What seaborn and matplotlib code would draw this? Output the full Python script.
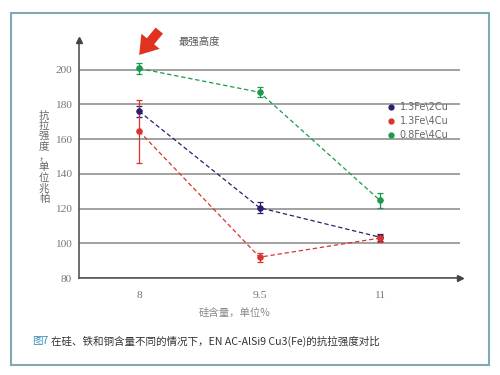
import numpy as np
import pandas as pd
import seaborn as sns
import matplotlib.pyplot as plt
from matplotlib.lines import Line2D
from matplotlib.patches import Rectangle

silicon = ["8", "9.5", "11"]
alloys = ["1.3Fe\\2Cu", "1.3Fe\\4Cu", "0.8Fe\\4Cu"]
strength_2cu = [176, 120.5, 103.5]
strength_13_4cu = [164.5, 92, 103]
strength_08_4cu = [200.7, 187, 124.7]
err_2cu = [3, 3, 2]
err_13_4cu = [18, 2.5, 2]
err_08_4cu = [3, 3, 4.2]
colors = ["#2a206e", "#d9342b", "#1b9a4b"]
yticks = [80, 100, 120, 140, 160, 180, 200]

sns.set_style("white")
plt.rcParams['font.family'] = ['Noto Sans CJK SC', 'DejaVu Sans']
plt.rcParams['lines.dashed_pattern'] = [3.5, 2.2]

values = [strength_2cu, strength_13_4cu, strength_08_4cu]
errors = [err_2cu, err_13_4cu, err_08_4cu]
df = pd.DataFrame({
    "si": silicon * 3,
    "alloy": np.repeat(alloys, 3),
    "val": np.concatenate(values),
})

fig = plt.figure(figsize=(5, 3.75), dpi=100)
ax = fig.add_axes([79/500, 1-278/375, (460-79)/500, (278-40)/375])

pos = np.arange(len(silicon))
for vals, errs, c in zip(values, errors, colors):
    ax.errorbar(pos, vals, yerr=errs, fmt="none", ecolor=c, elinewidth=0.9,
                capsize=2.5, capthick=0.9, zorder=2)

sns.pointplot(data=df, x="si", y="val", hue="alloy", order=silicon, hue_order=alloys,
              palette=colors, linestyles="--", markers="o", errorbar=None,
              linewidth=0.9, markersize=4, ax=ax, legend=False, zorder=3)

ax.set_xlim(-0.5, 2.665)
ax.set_ylim(80, 217.1)
ax.set_yticks(yticks)
ax.set_yticklabels([str(v) for v in yticks], family="Liberation Serif", fontsize=8.2, color="#777777")
ax.set_xticks(pos)
ax.set_xticklabels(silicon, family="Liberation Serif", fontsize=8.2, color="#777777")
ax.set_xticks(pos + 0.5, minor=True)
ax.tick_params(axis="y", length=0, pad=5)
ax.tick_params(axis="x", which="major", length=0, pad=9)
ax.tick_params(axis="x", which="minor", length=4.5, width=1, color="#555555", direction="out")
ax.set_xlabel("")
ax.set_ylabel("")
ax.grid(axis="y", color="#9a9a9a", lw=1.3)
ax.set_axisbelow(True)
for s in ["top", "right"]:
    ax.spines[s].set_visible(False)
for s in ["left", "bottom"]:
    ax.spines[s].set_color("#555555")
    ax.spines[s].set_linewidth(1.2)
ax.plot(0, 1, "^", transform=ax.transAxes, clip_on=False, color="#444444", ms=5, zorder=5)
ax.plot(1, 0, ">", transform=ax.transAxes, clip_on=False, color="#444444", ms=5, zorder=5)

handles = [Line2D([], [], ls="none", marker="o", ms=3.5, color=c) for c in colors]
leg = ax.legend(handles, alloys, loc="upper left", bbox_to_anchor=(0.785, 0.775),
                frameon=False, handlelength=0.8, handletextpad=0.5, labelspacing=0.4,
                prop={"family": "DejaVu Sans", "size": 7})
for t in leg.get_texts():
    t.set_color("#666666")

ax.annotate("", xy=(0.0, 208.5), xytext=(14.5, 17.5), textcoords="offset points",
            annotation_clip=False,
            arrowprops=dict(arrowstyle="simple,head_length=0.75,head_width=1.0,tail_width=0.4",
                            mutation_scale=17, color="#e0321f", lw=0, shrinkA=0, shrinkB=0))
fig.text(199/500, 1-42/375, "最强高度", fontsize=7.5, color="#555555", ha="center", va="center")

fig.text(44/500, 1-157/375, "抗\n拉\n强\n度\n，\n单\n位\n兆\n帕", fontsize=7.5,
         color="#666666", ha="center", va="center", linespacing=1.05)
fig.text(235/500, 1-313/375, "硅含量，单位%", fontsize=7.5, color="#888888", ha="center", va="center")

t1 = fig.text(32/500, 1-341/375, "图7", fontsize=7.6, color="#3b8db3", va="center")
fig.canvas.draw()
bb = t1.get_window_extent()
fig.text((bb.x1 + 3)/500, 1-341/375, "在硅、铁和铜含量不同的情况下，EN AC-AlSi9 Cu3(Fe)的抗拉强度对比",
         fontsize=7.6, color="#333333", va="center")

fig.patches.append(Rectangle((11/500, 1-365/375), 478/500, 352/375, transform=fig.transFigure,
                             fill=False, ec="#7fa9b3", lw=1.5))

fig.savefig("out.png", dpi=100)
